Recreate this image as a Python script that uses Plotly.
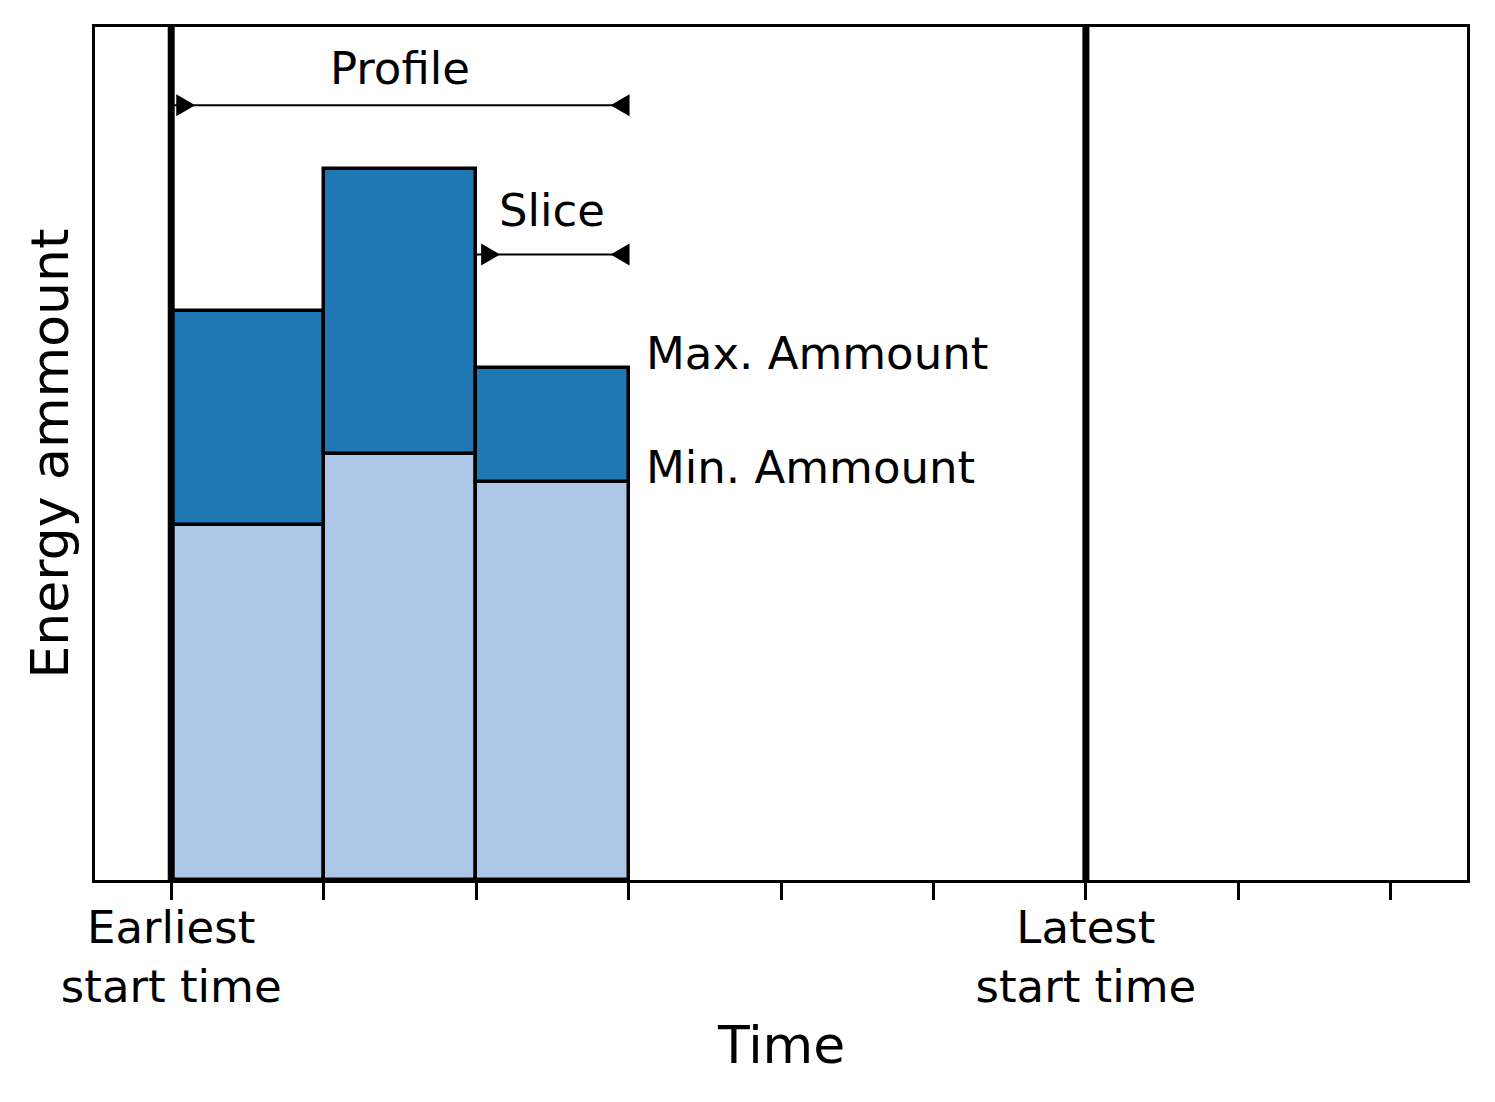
import plotly.graph_objects as go

# ---- data ----
slot_centers = [0.5, 1.5, 2.5]
min_amount = [2.5, 3.0, 2.8]
max_amount = [4.0, 5.0, 3.6]
tick_positions = [0, 1, 2, 3, 4, 5, 6, 7, 8]
tick_labels = ["Earliest<br>start time", "", "", "", "", "", "Latest<br>start time", "", ""]
earliest_start = 0
latest_start = 6
profile_span = [0, 3]
profile_level = 5.45
slice_span = [2, 3]
slice_level = 4.4

FONT = "DejaVu Sans"
LIGHT = "#aec7e8"
DARK = "#1f77b4"

flex = [mx - mn for mx, mn in zip(max_amount, min_amount)]

fig = go.Figure()
fig.add_trace(go.Bar(x=slot_centers, y=min_amount, width=1,
                     marker=dict(color=LIGHT, line=dict(color="black", width=3.5)),
                     showlegend=False, hoverinfo="skip"))
fig.add_trace(go.Bar(x=slot_centers, y=flex, base=min_amount, width=1,
                     marker=dict(color=DARK, line=dict(color="black", width=3.5)),
                     showlegend=False, hoverinfo="skip"))

# thick vertical lines for earliest/latest start
for xv in [earliest_start, latest_start]:
    fig.add_shape(type="line", xref="x", yref="y domain", x0=xv, x1=xv, y0=0, y1=1,
                  line=dict(color="black", width=7), layer="above")

# dimension arrows
def add_dim(span, level):
    fig.add_shape(type="line", xref="x", yref="y", x0=span[0], x1=span[1], y0=level, y1=level,
                  line=dict(color="black", width=2), layer="above")
    fig.add_shape(type="path", xref="x", yref="y", xsizemode="pixel", ysizemode="pixel",
                  xanchor=span[0], yanchor=level, path="M 5,-11 L 24,0 L 5,11 Z",
                  fillcolor="black", line=dict(width=0), layer="above")
    fig.add_shape(type="path", xref="x", yref="y", xsizemode="pixel", ysizemode="pixel",
                  xanchor=span[1], yanchor=level, path="M 1,-11 L -18,0 L 1,11 Z",
                  fillcolor="black", line=dict(width=0), layer="above")

add_dim(profile_span, profile_level)
add_dim(slice_span, slice_level)

txt = dict(family=FONT, size=45, color="black")
fig.add_annotation(x=sum(profile_span) / 2, y=profile_level + 0.26, text="Profile", showarrow=False, font=txt)
fig.add_annotation(x=sum(slice_span) / 2, y=slice_level + 0.31, text="Slice", showarrow=False, font=txt)
fig.add_annotation(x=slice_span[1] + 0.1, y=max_amount[2] + 0.1, text="Max. Ammount", showarrow=False,
                   font=txt, xanchor="left")
fig.add_annotation(x=slice_span[1] + 0.1, y=min_amount[2] + 0.1, text="Min. Ammount", showarrow=False,
                   font=txt, xanchor="left")

# axis titles
fig.add_annotation(xref="paper", yref="paper", x=0.5, y=-0.193, text="Time", showarrow=False,
                   font=dict(family=FONT, size=52, color="black"), yanchor="middle")
fig.add_annotation(xref="paper", yref="paper", x=-0.0328, y=0.5, text="Energy ammount", showarrow=False,
                   textangle=-90, font=dict(family=FONT, size=52, color="black"), xanchor="center")

fig.update_layout(
    width=1487, height=1094,
    margin=dict(l=87, r=28, t=19, b=222),
    paper_bgcolor="white", plot_bgcolor="white",
    barmode="overlay", bargap=0,
    font=dict(family=FONT, color="black"),
)
fig.update_xaxes(range=[-0.5, 8.5], tickvals=tick_positions, ticktext=tick_labels,
                 ticks="outside", ticklen=17, tickwidth=3, tickcolor="black",
                 ticklabelstandoff=-11,
                 tickfont=dict(family=FONT, size=45, color="black"),
                 showline=True, linewidth=3, linecolor="black", mirror=True,
                 showgrid=False, zeroline=False)
fig.update_yaxes(range=[0, 6], showticklabels=False, ticks="",
                 showline=True, linewidth=3, linecolor="black", mirror=True,
                 showgrid=False, zeroline=False)

fig.write_html("out.html")
